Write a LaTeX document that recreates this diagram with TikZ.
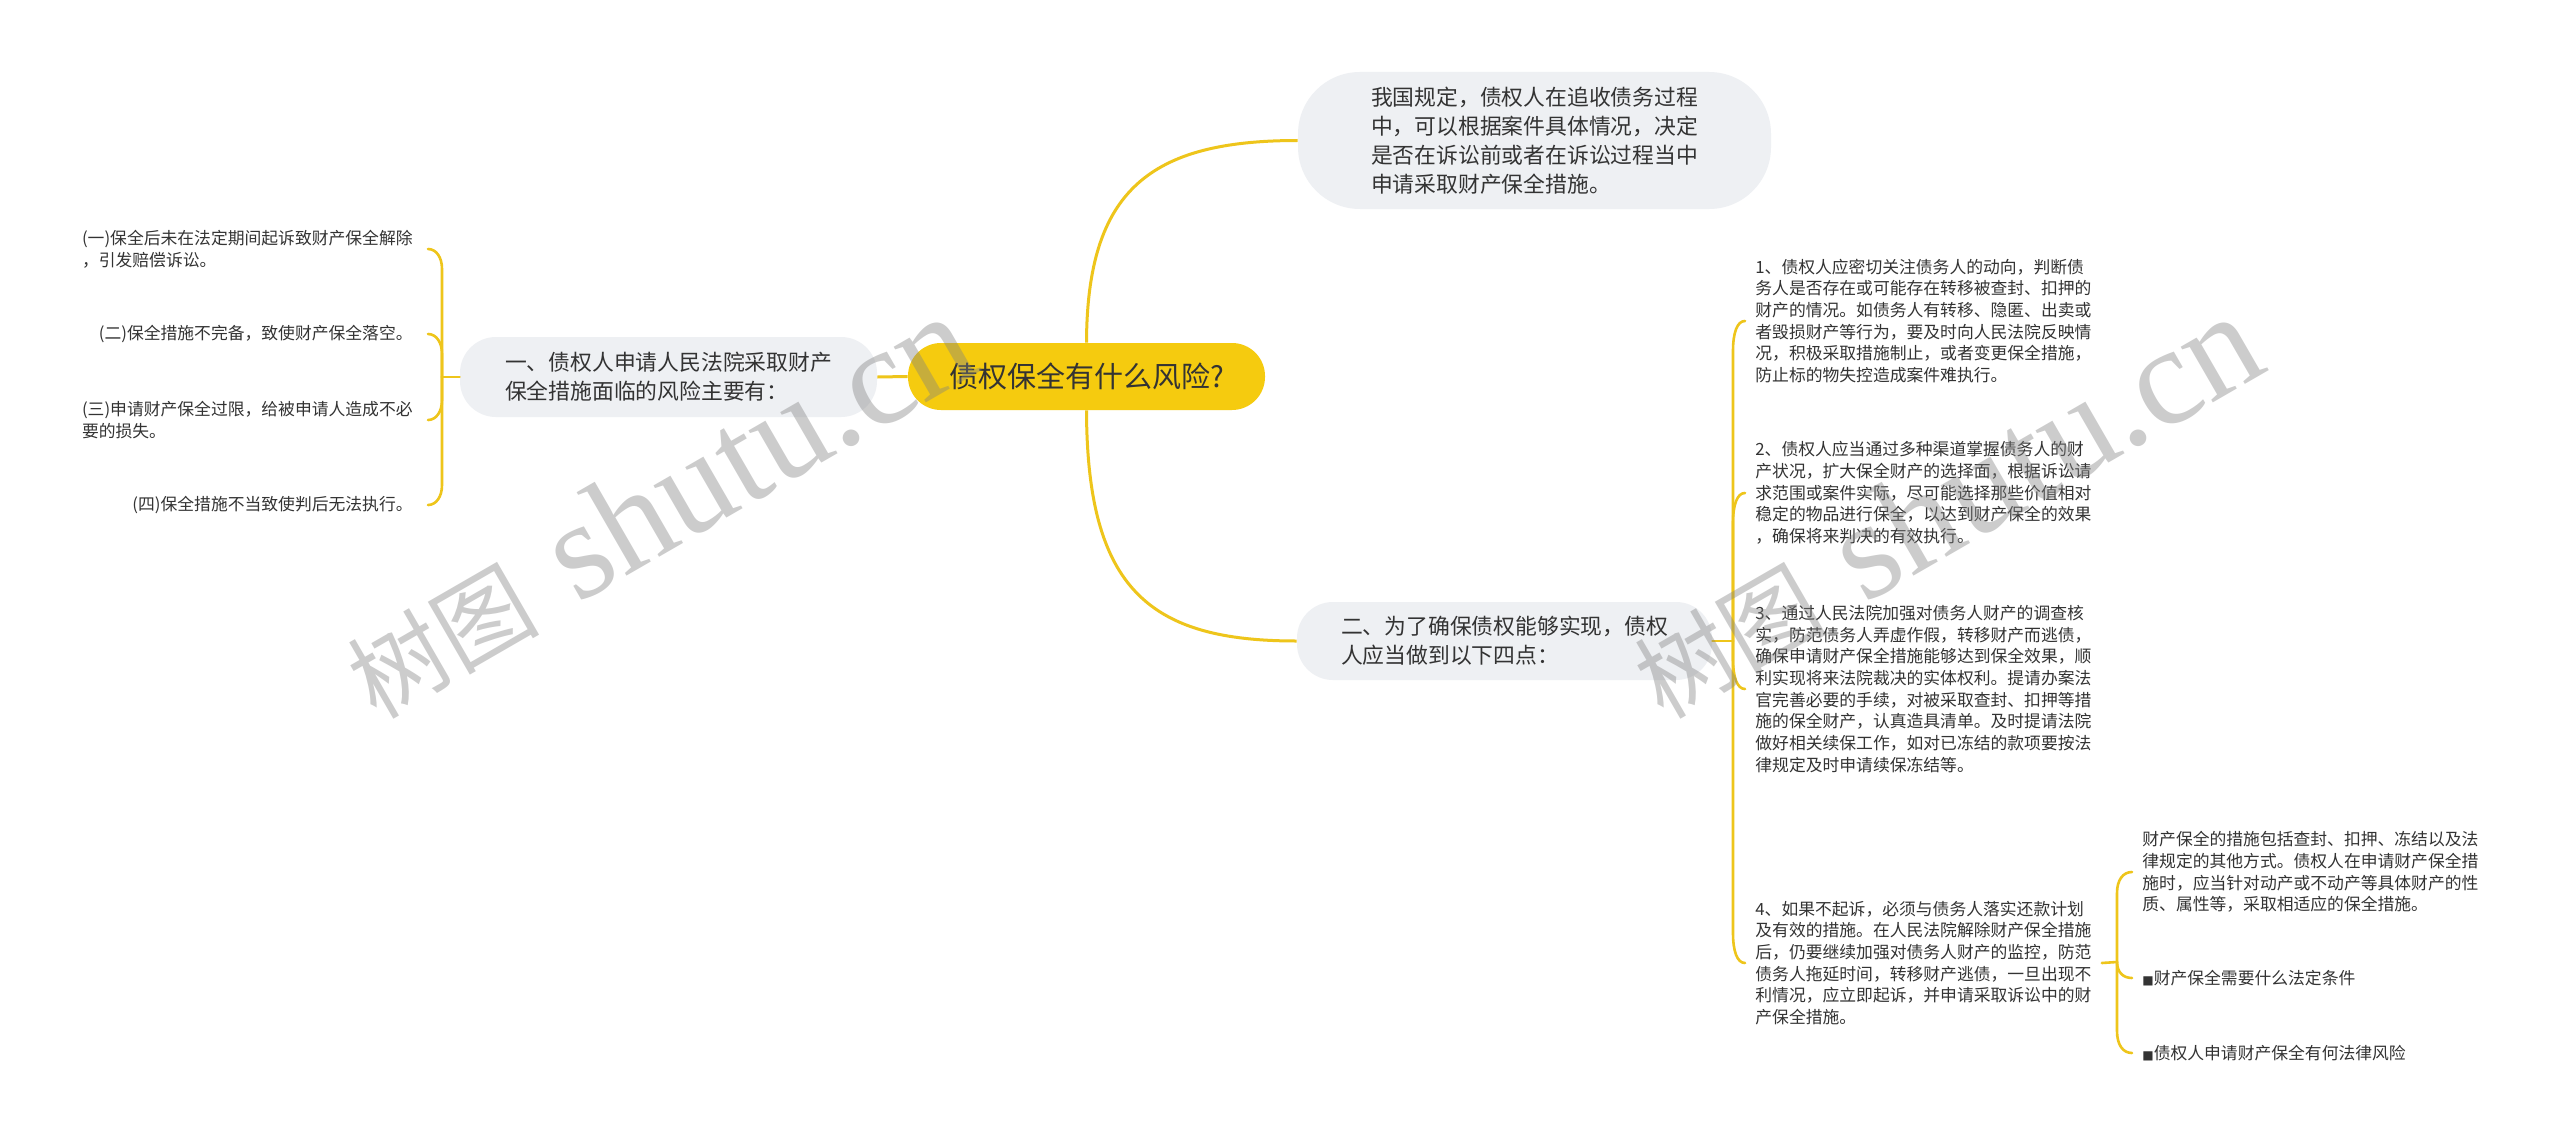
\documentclass[tikz,border=0pt]{standalone}
\usepackage{fontspec}
\setmainfont{Noto Sans CJK SC}
\newfontfamily\wmlatin{Liberation Serif}
\newfontfamily\symfont{DejaVu Sans}
\definecolor{lineY}{HTML}{EEC51B}
\definecolor{nodeY}{HTML}{F5CB0F}
\definecolor{nodeG}{HTML}{EEF0F3}
\definecolor{txt}{HTML}{333333}
\newcommand{\sqmark}{{\symfont\fontsize{6pt}{6pt}\selectfont ■}}
\begin{document}
\begin{tikzpicture}[x=0.5pt,y=-0.5pt,
  conn/.style={draw=lineY, line width=1.5pt},
  brk/.style={draw=lineY, line width=1.3pt, line cap=round},
  rootbox/.style={fill=nodeY, rounded corners=16.5pt, minimum width=178.5pt, minimum height=33.5pt, inner sep=0pt, text=txt, font=\fontsize{14.5pt}{17pt}\selectfont},
  topicbox/.style={fill=nodeG, inner sep=0pt, text=txt, align=left, font=\fontsize{10.9pt}{14.5pt}\selectfont},
  leaf/.style={inner sep=0pt, text=txt, align=left, font=\fontsize{8.4pt}{10.85pt}\selectfont},
  wm/.style={inner sep=0pt, text=black!50, text opacity=0.40, rotate=30}
]
\fill[white] (0,0) rectangle (2560,1145);
\useasboundingbox (0,0) rectangle (2560,1145);

% main nodes
\node[rootbox] (root) at (1086.5,376.5) {债权保全有什么风险?};
\node[topicbox, minimum width=236.5pt, minimum height=68.5pt, rounded corners=31pt] (top) at (1534.5,140.5)
  {我国规定，债权人在追收债务过程\\中，可以根据案件具体情况，决定\\是否在诉讼前或者在诉讼过程当中\\申请采取财产保全措施。};
\node[topicbox, minimum width=208.5pt, minimum height=40pt, rounded corners=18pt] (left) at (668.5,377)
  {一、债权人申请人民法院采取财产\\保全措施面临的风险主要有：};
\node[topicbox, minimum width=207.5pt, minimum height=39pt, rounded corners=18pt] (right) at (1504.5,641)
  {二、为了确保债权能够实现，债权\\人应当做到以下四点：};

% left leaves
\node[leaf, anchor=east] (l1) at (413,249) {(一)保全后未在法定期间起诉致财产保全解除\\，引发赔偿诉讼。};
\node[leaf, anchor=east] (l2) at (413,334) {(二)保全措施不完备，致使财产保全落空。};
\node[leaf, anchor=east] (l3) at (413,420) {(三)申请财产保全过限，给被申请人造成不必\\要的损失。};
\node[leaf, anchor=east] (l4) at (413,505) {(四)保全措施不当致使判后无法执行。};

% right leaves
\node[leaf, anchor=west] (r1) at (1755,321) {1、债权人应密切关注债务人的动向，判断债\\务人是否存在或可能存在转移被查封、扣押的\\财产的情况。如债务人有转移、隐匿、出卖或\\者毁损财产等行为，要及时向人民法院反映情\\况，积极采取措施制止，或者变更保全措施，\\防止标的物失控造成案件难执行。};
\node[leaf, anchor=west] (r2) at (1755,493) {2、债权人应当通过多种渠道掌握债务人的财\\产状况，扩大保全财产的选择面，根据诉讼请\\求范围或案件实际，尽可能选择那些价值相对\\稳定的物品进行保全，以达到财产保全的效果\\，确保将来判决的有效执行。};
\node[leaf, anchor=west] (r3) at (1755,689) {3、通过人民法院加强对债务人财产的调查核\\实，防范债务人弄虚作假，转移财产而逃债，\\确保申请财产保全措施能够达到保全效果，顺\\利实现将来法院裁决的实体权利。提请办案法\\官完善必要的手续，对被采取查封、扣押等措\\施的保全财产，认真造具清单。及时提请法院\\做好相关续保工作，如对已冻结的款项要按法\\律规定及时申请续保冻结等。};
\node[leaf, anchor=west] (r4) at (1755,963) {4、如果不起诉，必须与债务人落实还款计划\\及有效的措施。在人民法院解除财产保全措施\\后，仍要继续加强对债务人财产的监控，防范\\债务人拖延时间，转移财产逃债，一旦出现不\\利情况，应立即起诉，并申请采取诉讼中的财\\产保全措施。};

% sub leaves
\node[leaf, anchor=west] (s1) at (2142,872) {财产保全的措施包括查封、扣押、冻结以及法\\律规定的其他方式。债权人在申请财产保全措\\施时，应当针对动产或不动产等具体财产的性\\质、属性等，采取相适应的保全措施。};
\node[leaf, anchor=west] (s2) at (2142,978) {\sqmark 财产保全需要什么法定条件};
\node[leaf, anchor=west] (s3) at (2142,1053) {\sqmark 债权人申请财产保全有何法律风险};

% main connectors
\draw[conn] (root.west) -- (left.east);
\draw[conn] (root.north) .. controls (1087,190) and (1150,140.5) .. (top.west);
\draw[conn] (root.south) .. controls (1087,590) and (1150,641) .. (right.west);

% left bracket
\coordinate (lj) at (442,377);
\draw[brk] (left.west) -- (lj);
\draw[brk] (lj) -- (442,269) .. controls (442,257) and (436,249) .. ([xshift=7.5pt]l1.east);
\draw[brk] (lj) -- (442,354) .. controls (442,342) and (436,334) .. ([xshift=7.5pt]l2.east);
\draw[brk] (lj) -- (442,400) .. controls (442,412) and (436,420) .. ([xshift=7.5pt]l3.east);
\draw[brk] (lj) -- (442,485) .. controls (442,497) and (436,505) .. ([xshift=7.5pt]l4.east);

% right bracket
\coordinate (rj) at (1733,641);
\draw[brk] (right.east) -- (rj);
\draw[brk] (rj) -- (1733,351) .. controls (1733,333) and (1737,321) .. ([xshift=-5pt]r1.west);
\draw[brk] (rj) -- (1733,523) .. controls (1733,505) and (1737,493) .. ([xshift=-5pt]r2.west);
\draw[brk] (rj) -- (1733,659) .. controls (1733,677) and (1737,689) .. ([xshift=-5pt]r3.west);
\draw[brk] (rj) -- (1733,933) .. controls (1733,951) and (1737,963) .. ([xshift=-5pt]r4.west);

% sub bracket
\coordinate (sj) at (2117,962);
\draw[brk] ([xshift=5pt]r4.east) -- (sj);
\draw[brk] (sj) -- (2117,893) .. controls (2117,880) and (2123,872) .. ([xshift=-5pt]s1.west);
\draw[brk] (sj) .. controls (2117,972) and (2123,978) .. ([xshift=-5pt]s2.west);
\draw[brk] (sj) -- (2117,1031) .. controls (2117,1045) and (2123,1053) .. ([xshift=-5pt]s3.west);

% watermarks
\node[wm] (wm1) at (658,506) {{\fontsize{48pt}{48pt}\selectfont 树图}\hspace{20pt}{\wmlatin\fontsize{70pt}{70pt}\selectfont shutu.cn}};
\node[wm] (wm2) at (1945,506) {{\fontsize{48pt}{48pt}\selectfont 树图}\hspace{20pt}{\wmlatin\fontsize{70pt}{70pt}\selectfont shutu.cn}};
\end{tikzpicture}
\end{document}
